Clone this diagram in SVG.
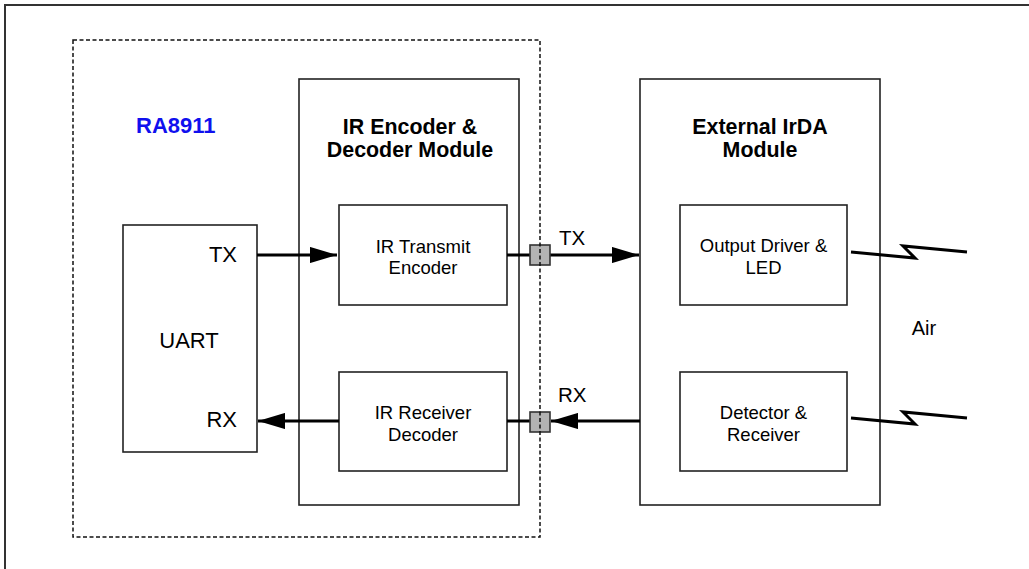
<svg xmlns="http://www.w3.org/2000/svg" width="1029" height="569" viewBox="0 0 1029 569">
<style>
.box{fill:#fff;stroke:#222;stroke-width:1.6}
.t{font-family:"Liberation Sans",Arial,sans-serif;font-size:18.5px;fill:#000;text-anchor:middle}
.b{font-family:"Liberation Sans",Arial,sans-serif;font-size:21.4px;font-weight:bold;fill:#000;text-anchor:middle}
.lbl{font-family:"Liberation Sans",Arial,sans-serif;font-size:21px;fill:#000}
.wire{stroke:#000;stroke-width:3;fill:none}
.port{fill:#b3b3b3;stroke:#333;stroke-width:1.6}
.bolt{stroke:#000;stroke-width:3;fill:none;stroke-linejoin:miter}
</style>
<defs>
<marker id="ah" markerWidth="9" markerHeight="5.4" refX="9" refY="2.7" orient="auto" markerUnits="strokeWidth">
<path d="M0,0 L9,2.7 L0,5.4 Z" fill="#000"/>
</marker>
</defs>
<rect x="5" y="5" width="1040" height="580" fill="#fff" stroke="#333" stroke-width="2"/>
<g id="ra8911">
<text x="136" y="133" font-family="Liberation Sans,Arial,sans-serif" font-size="22" font-weight="bold" fill="#1010ee">RA8911</text>
</g>
<g id="uart">
<rect class="box" x="123" y="225" width="134" height="227"/>
<text class="t" x="189" y="348" style="font-size:22px">UART</text>
<text class="lbl" x="237" y="262" text-anchor="end" style="font-size:22px">TX</text>
<text class="lbl" x="237" y="427" text-anchor="end" style="font-size:22px">RX</text>
</g>
<g id="ir-module">
<rect class="box" x="299" y="79" width="220" height="426"/>
<text class="b" x="410" y="134">IR Encoder &amp;</text>
<text class="b" x="410" y="157">Decoder Module</text>
</g>
<g id="ir-transmit">
<rect class="box" x="339" y="205" width="168" height="100"/>
<text class="t" x="423" y="252.5">IR Transmit</text>
<text class="t" x="423" y="274">Encoder</text>
</g>
<g id="ir-receiver">
<rect class="box" x="339" y="372" width="168" height="99"/>
<text class="t" x="423" y="418.5">IR Receiver</text>
<text class="t" x="423" y="440.5">Decoder</text>
</g>
<g id="external">
<rect class="box" x="640" y="79" width="240" height="426"/>
<text class="b" x="760" y="134">External IrDA</text>
<text class="b" x="760" y="157">Module</text>
</g>
<g id="output-driver">
<rect class="box" x="680" y="205" width="167" height="100"/>
<text class="t" x="763.5" y="252">Output Driver &amp;</text>
<text class="t" x="763.5" y="274">LED</text>
</g>
<g id="detector">
<rect class="box" x="680" y="372" width="167" height="99"/>
<text class="t" x="763.5" y="418.5">Detector &amp;</text>
<text class="t" x="763.5" y="440.5">Receiver</text>
</g>
<g id="air">
<text class="t" x="924" y="335" style="font-size:20px">Air</text>
</g>
<g id="connectors">
<line class="wire" x1="257" y1="255" x2="337" y2="255" marker-end="url(#ah)"/>
<line class="wire" x1="507" y1="255" x2="531" y2="255"/>
<line class="wire" x1="549" y1="255" x2="639" y2="255" marker-end="url(#ah)"/>
<line class="wire" x1="640" y1="421" x2="551" y2="421" marker-end="url(#ah)"/>
<line class="wire" x1="531" y1="421" x2="507" y2="421"/>
<line class="wire" x1="339" y1="421" x2="258" y2="421" marker-end="url(#ah)"/>
<polyline class="bolt" points="851,252 915,258 903,246 967,252"/>
<polyline class="bolt" points="851,418 915,424 903,412 967,418"/>
<text class="lbl" x="559" y="245" style="font-size:20.5px">TX</text>
<text class="lbl" x="558" y="402" style="font-size:20.5px">RX</text>
</g>
<g id="ports">
<rect class="port" x="530" y="245" width="20" height="20"/>
<rect class="port" x="530" y="412" width="20" height="20"/>
</g>
<g id="ra8911-boundary">
<rect x="73" y="40" width="467" height="497" fill="none" stroke="#111" stroke-width="1.5" stroke-dasharray="4,2.5"/>
</g>
</svg>
